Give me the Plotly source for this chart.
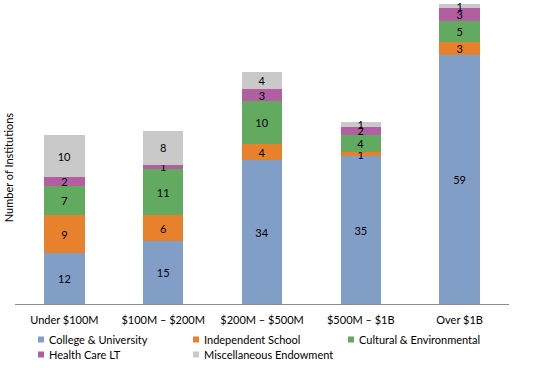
import plotly.graph_objects as go

categories = ["Under $100M", "$100M – $200M", "$200M – $500M", "$500M – $1B", "Over $1B"]
college = [12, 15, 34, 35, 59]
independent = [9, 6, 4, 1, 3]
cultural = [7, 11, 10, 4, 5]
health = [2, 1, 3, 2, 3]
misc = [10, 8, 4, 1, 1]

series = [
    ("College & University", college, "#819FC6"),
    ("Independent School", independent, "#E8812B"),
    ("Cultural & Environmental", cultural, "#62AA5F"),
    ("Health Care LT", health, "#B25FA2"),
    ("Miscellaneous Endowment", misc, "#C9C9C9"),
]

W, H = 533, 368
font = "Lato, 'Liberation Sans', Arial, sans-serif"
fig = go.Figure()
for name, vals, color in series:
    fig.add_trace(go.Bar(
        x=categories, y=vals, name=name, showlegend=False,
        marker=dict(color=color, line=dict(width=0)),
        text=[str(v) for v in vals],
        textposition="inside", insidetextanchor="middle",
        textangle=0, constraintext="none",
        textfont=dict(color="#000000", size=11, family=font),
    ))

# custom legend (pixel layout like the original), 3 columns x 2 rows
col_x = [41, 196, 351]
row_y = [339.5, 354.5]
shapes = []
annotations = []
for i, (name, vals, color) in enumerate(series):
    cx = col_x[i % 3]
    cy = row_y[i // 3]
    shapes.append(dict(type="rect", xref="paper", yref="paper",
                       x0=(cx - 3 - 15) / (W - 39), x1=(cx + 3 - 15) / (W - 39),
                       y0=(H - 64 - (cy + 3)) / (H - 64), y1=(H - 64 - (cy - 3)) / (H - 64),
                       fillcolor=color, line=dict(width=0)))
    annotations.append(dict(text=name, xref="paper", yref="paper",
                            x=(cx + 6 - 15) / (W - 39), y=(H - 64 - cy) / (H - 64),
                            xanchor="left", yanchor="middle", showarrow=False,
                            font=dict(size=11, family=font, color="#000000")))

annotations.append(dict(text="Number of Institutions", textangle=-90,
                        xref="paper", yref="paper", x=(8 - 15) / (W - 39), y=0.45,
                        showarrow=False, xanchor="center", yanchor="middle",
                        font=dict(size=11, family=font)))

fig.update_layout(
    barmode="stack",
    bargap=0.59,
    width=W, height=H,
    margin=dict(l=15, r=24, t=0, b=64, autoexpand=False),
    paper_bgcolor="white", plot_bgcolor="white",
    font=dict(family=font, size=11, color="#000000"),
    showlegend=False,
    xaxis=dict(showline=True, linecolor="#8C8C8C", linewidth=1,
               ticks="outside", ticklen=6, tickcolor="rgba(0,0,0,0)",
               tickfont=dict(size=11, family=font), showgrid=False),
    yaxis=dict(range=[0, 72], showticklabels=False, showgrid=False,
               zeroline=False, showline=False, ticks=""),
    shapes=shapes,
    annotations=annotations,
)

fig.write_html("out.html", config={"displayModeBar": False},
               post_script="document.body.style.margin='0';")
